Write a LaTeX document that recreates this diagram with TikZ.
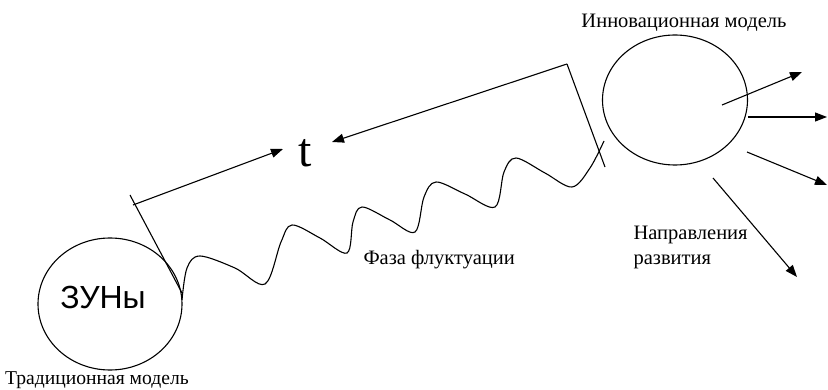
\documentclass[tikz,border=0pt]{standalone}
\usepackage{fontspec}
\setmainfont{Liberation Serif}
\newfontfamily\timesfont{Liberation Serif}
\newfontfamily\zunfont{Liberation Sans}
\usetikzlibrary{arrows.meta,shapes.geometric,positioning,calc}
\tikzset{every picture/.style={line width=1.1pt}}

\begin{document}
\begin{tikzpicture}[x=1pt,y=-1pt,
    model/.style={draw, ellipse, inner sep=0pt},
    arr/.style={-{Triangle[length=12pt,width=9pt]}},
    lbl/.style={font=\timesfont\fontsize{20.5}{25}\selectfont, inner sep=0pt}]
    \useasboundingbox (0,0) rectangle (828,390);

    % модели
    \node[model, minimum width=144pt, minimum height=132pt] (zun) at (110,304) {};
    \node[font=\zunfont\fontsize{32}{32}\selectfont, inner sep=0pt] (zuntxt) at (103,297) {ЗУНы};
    \node[model, minimum width=145pt, minimum height=130pt] (inno) at (675,100) {};

    % подписи
    \node[lbl, font=\timesfont\fontsize{19.6}{25}\selectfont, anchor=base] (trad) at (97,384) {Традиционная модель};
    \node[lbl, anchor=base] (innolbl) at (684,28) {Инновационная модель};
    \node[lbl, anchor=base west] (faza) at (363,265) {Фаза флуктуации};
    \node[lbl, anchor=base west, align=left] (napr) at (633,265) {Направления\\развития};
    \node[font=\timesfont\fontsize{48}{48}\selectfont, inner sep=0pt, anchor=base] (t) at (305,167) {t};

    % отрезок времени
    \coordinate (tickA) at (130,195);
    \coordinate (tickB) at (182,293);
    \coordinate (startL) at (133,205);
    \coordinate (corner) at (567,64);
    \coordinate (tickR) at (605,167);
    \draw (tickA) -- (tickB);
    \draw (tickR) -- (corner);
    \draw[arr] (startL) -- (283,149) coordinate (tipL);
    \draw[arr] (corner) -- (332,142) coordinate (tipR);

    % фаза флуктуации
    \draw plot[smooth, tension=0.55] coordinates {
        (182,300) (187,268) (200,256) (235,268) (265,284)
        (281,242) (292,225) (320,238) (347,253)
        (353,222) (362,207) (390,220) (415,232)
        (424,197) (436,182) (465,194) (495,207)
        (504,172) (516,158) (545,173) (572,187)
        (590,168) (604,141)};

    % направления развития
    \draw[arr] (722,105) -- (802,72);
    \draw[arr] (inno.east) ++(0,17) -- (827,117);
    \draw[arr] (747,152) -- (827,185);
    \draw[arr] (713,178) -- (797,277);
\end{tikzpicture}
\end{document}
